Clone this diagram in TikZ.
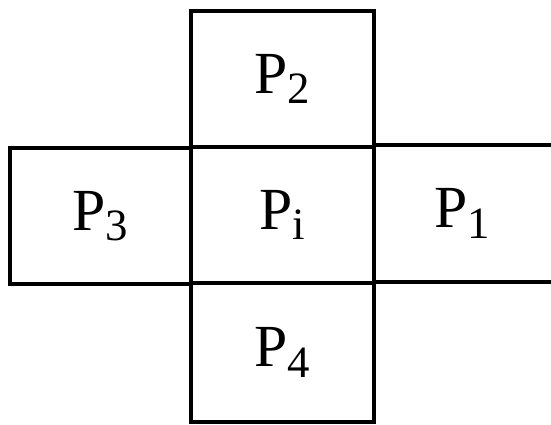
\documentclass[tikz,border=0pt]{standalone}
\usepackage{fontspec}
\setmainfont{Liberation Serif}
\usetikzlibrary{positioning}
\newcommand{\sbx}[1]{\raisebox{-0.17em}{\fontsize{25.5}{30}\selectfont #1}}

\begin{document}
\begin{tikzpicture}[
    x=0.02cm, y=-0.02cm,
    cell/.style={draw, line width=0.068cm, inner sep=0pt, outer sep=0pt,
                 minimum width=3.66cm, minimum height=2.72cm,
                 font=\fontsize{34}{40}\selectfont},
    edge/.style={line width=0.068cm}
]
  \useasboundingbox (0,0) rectangle (551,424);

  % Nodes
  \node[cell] (pi) at (282.5,215) {P\sbx{i}};
  \node[cell] (p2) at (282.5,79) {P\sbx{2}};
  \node[cell, minimum height=2.78cm] (p4) at (282.5,352.5) {P\sbx{4}};
  \node[cell, minimum width=3.62cm] (p3) at (100.5,216) {P\sbx{3}};
  \node[cell, draw=none, minimum width=3.54cm, minimum height=2.74cm]
      (p1) at (462.5,213.5) {P\sbx{1}};

  % Lines of the open cell
  \draw[edge] (p1.north east) -- (p1.north west) -- (p1.south west) -- (p1.south east);
\end{tikzpicture}
\end{document}
